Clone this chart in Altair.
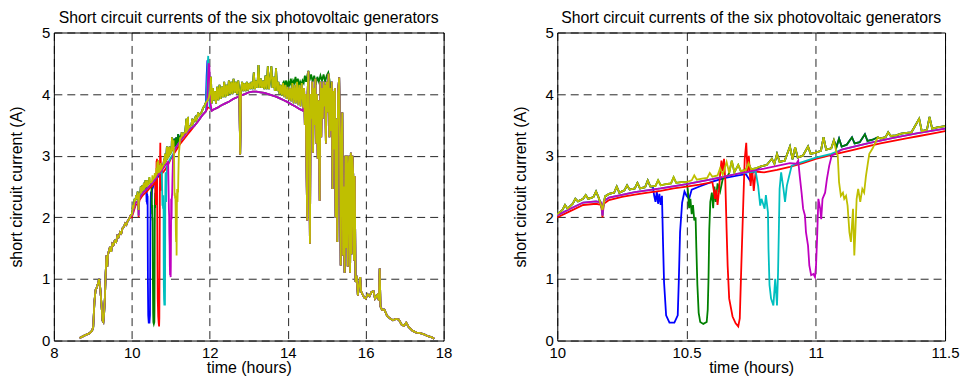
import altair as alt
import pandas as pd

TITLE = "Short circuit currents of the six photovoltaic generators"
NAMES = ["gen1", "gen2", "gen3", "gen4", "gen5", "gen6"]
COLORS = ["#0000FF", "#008000", "#FF0000", "#00BFBF", "#BF00BF", "#BFBF00"]
FONT = "Liberation Sans"

# morning ramp, shared by all generators
AM_T = [8.66, 8.72, 8.78, 8.85, 8.92, 8.98, 9.01, 9.04, 9.07, 9.10, 9.13, 9.16, 9.19, 9.22,
        9.25, 9.27, 9.29, 9.31, 9.33, 9.35, 9.37, 9.39, 9.41, 9.44, 9.47, 9.50, 9.53, 9.56,
        9.60, 9.63, 9.66, 9.70, 9.73, 9.76, 9.80, 9.83, 9.86, 9.90, 9.93, 9.96]
AM_V = [0.04, 0.06, 0.08, 0.10, 0.12, 0.16, 0.22, 0.62, 0.82, 0.86, 0.92, 1.00, 0.85, 0.60,
        0.32, 0.30, 0.45, 0.70, 1.10, 1.38, 1.20, 1.40, 1.45, 1.52, 1.44, 1.57, 1.55, 1.62,
        1.60, 1.70, 1.68, 1.76, 1.74, 1.82, 1.85, 1.90, 1.88, 1.95, 1.97, 2.02]

# upper (noisy) envelope 10 h - 14.4 h
UP_T = [10.00, 10.02, 10.03, 10.04, 10.06, 10.07, 10.08, 10.10, 10.11, 10.12, 10.14, 10.15,
        10.16, 10.175, 10.185, 10.20, 10.22, 10.23, 10.24, 10.26, 10.27, 10.28, 10.30, 10.31,
        10.32, 10.34, 10.35, 10.36, 10.38, 10.39, 10.40, 10.42, 10.44, 10.45, 10.46, 10.48,
        10.50, 10.52, 10.53, 10.54, 10.56, 10.58, 10.59, 10.60, 10.62, 10.63, 10.64, 10.655,
        10.665, 10.675, 10.685, 10.70, 10.71, 10.73, 10.74, 10.75, 10.77, 10.79, 10.81, 10.83,
        10.84, 10.85, 10.86, 10.88, 10.90, 10.91, 10.92, 10.93, 10.95, 10.97, 10.98, 11.00,
        11.02, 11.03, 11.04, 11.06, 11.07, 11.08, 11.09, 11.10, 11.12, 11.14, 11.15, 11.17,
        11.19, 11.20, 11.22, 11.24, 11.25, 11.27, 11.28, 11.29, 11.31, 11.33, 11.35, 11.37,
        11.40, 11.41, 11.43, 11.44, 11.45, 11.47, 11.50, 11.53, 11.55, 11.57, 11.60, 11.63,
        11.65, 11.68, 11.70, 11.72, 11.76, 11.80, 11.83, 11.86, 11.89, 11.92, 11.95, 11.98,
        12.01, 12.03, 12.05,
        12.08, 12.10, 12.13, 12.16, 12.19, 12.22, 12.25, 12.28, 12.31, 12.34, 12.37, 12.40,
        12.43, 12.46, 12.49, 12.52, 12.55, 12.58, 12.61, 12.64, 12.67, 12.70, 12.73, 12.76,
        12.78, 12.80, 12.83, 12.86, 12.89, 12.92, 12.95, 12.98, 13.01, 13.04, 13.07, 13.10,
        13.13, 13.16, 13.19, 13.22, 13.25, 13.28, 13.31, 13.34, 13.37, 13.40, 13.43, 13.46,
        13.49, 13.52, 13.55, 13.58, 13.61, 13.64, 13.67, 13.70, 13.73, 13.76, 13.79, 13.82,
        13.85, 13.88, 13.91, 13.94, 13.97, 14.00, 14.03, 14.06, 14.09, 14.12, 14.15, 14.18,
        14.21, 14.24, 14.27, 14.30, 14.33, 14.36, 14.40]
UP_V = [2.05, 2.12, 2.20, 2.14, 2.22, 2.30, 2.26, 2.30, 2.36, 2.30, 2.33, 2.42,
        2.32, 2.12, 2.34, 2.38, 2.40, 2.50, 2.40, 2.44, 2.52, 2.45, 2.47, 2.56,
        2.47, 2.49, 2.60, 2.50, 2.51, 2.60, 2.52, 2.54, 2.55, 2.65, 2.56, 2.57,
        2.57, 2.60, 2.68, 2.61, 2.63, 2.64, 2.72, 2.66, 2.68, 2.80, 2.69, 2.90,
        2.72, 2.92, 2.73, 2.85, 2.75, 2.77, 2.88, 2.78, 2.80, 2.83, 2.85, 2.95,
        2.87, 3.03, 2.90, 2.92, 3.15, 2.94, 3.14, 2.97, 3.00, 3.15, 3.03, 3.05,
        3.08, 3.30, 3.10, 3.12, 3.25, 3.14, 3.28, 3.15, 3.18, 3.30, 3.20, 3.22,
        3.35, 3.24, 3.26, 3.30, 3.28, 3.30, 3.38, 3.32, 3.33, 3.36, 3.37, 3.38,
        3.60, 3.40, 3.42, 3.63, 3.44, 3.46, 3.48, 3.50, 3.60, 3.53, 3.57, 3.62,
        3.58, 3.63, 3.70, 3.65, 3.68, 3.72, 3.78, 3.80, 3.85, 3.88, 3.90, 3.95,
        4.05, 4.28, 3.85,
        4.10, 3.90, 4.05, 3.85, 4.12, 3.90, 4.15, 3.92, 4.12, 3.95, 4.20, 3.95,
        4.15, 3.97, 4.22, 4.00, 4.20, 4.00, 4.25, 4.02, 4.20, 4.00, 4.22, 4.02,
        3.02, 4.05, 4.20, 4.05, 4.18, 4.05, 4.20, 4.06, 4.18, 4.08, 4.20, 4.08,
        4.35, 4.08, 4.22, 4.10, 4.47, 4.10, 4.25, 4.10, 4.22, 4.08, 4.30, 4.08,
        4.45, 4.08, 4.25, 4.45, 4.10, 4.28, 4.05, 4.42, 4.05, 4.20, 4.00, 4.15,
        3.98, 4.18, 3.95, 4.15, 3.92, 4.12, 3.90, 4.10, 3.88, 4.18, 3.85, 4.15,
        3.85, 4.20, 3.82, 4.15, 3.80, 4.18, 3.78]

# lower (smooth) envelope 10 h - 14.4 h
LO_T = [10.00, 10.05, 10.10, 10.15, 10.17, 10.175, 10.18, 10.20, 10.25, 10.30, 10.35, 10.40,
        10.45, 10.50, 10.55, 10.60, 10.65, 10.70, 10.75, 10.80, 10.85, 10.90, 10.95, 11.00,
        11.05, 11.10, 11.15, 11.20, 11.25, 11.30, 11.35, 11.40, 11.45, 11.50, 11.60, 11.70,
        11.80, 11.90, 11.95, 12.00, 12.05, 12.10, 12.20, 12.30, 12.40, 12.50, 12.60, 12.70,
        12.76, 12.78, 12.80, 12.90, 13.00, 13.10, 13.20, 13.30, 13.40, 13.50, 13.60, 13.70,
        13.80, 13.90, 14.00, 14.10, 14.20, 14.30, 14.40]
LO_V = [2.00, 2.10, 2.20, 2.22, 2.20, 2.00, 2.22, 2.28, 2.33, 2.37, 2.40, 2.43,
        2.47, 2.50, 2.53, 2.57, 2.61, 2.65, 2.69, 2.73, 2.77, 2.82, 2.88, 2.95,
        3.00, 3.05, 3.10, 3.15, 3.20, 3.24, 3.28, 3.32, 3.36, 3.40, 3.48, 3.56,
        3.65, 3.72, 3.78, 3.78, 3.73, 3.75, 3.78, 3.82, 3.85, 3.88, 3.92, 3.95,
        3.97, 3.02, 3.98, 4.00, 4.03, 4.04, 4.04, 4.03, 4.02, 4.00, 3.98, 3.96,
        3.93, 3.90, 3.87, 3.83, 3.80, 3.76, 3.73]

# magenta / cyan run slightly above red in the morning
MID_T = [10.00, 10.05, 10.10, 10.15, 10.17, 10.175, 10.18, 10.20, 10.30, 10.40, 10.50,
         10.60, 10.70, 10.80, 10.90, 11.00, 11.10, 11.20, 11.30, 11.40, 11.50]
MID_V = [2.03, 2.14, 2.24, 2.26, 2.24, 2.03, 2.26, 2.32, 2.41, 2.47, 2.54,
         2.62, 2.71, 2.79, 2.88, 3.00, 3.10, 3.20, 3.29, 3.37, 3.44]

# afternoon clouds and evening decline, shared by all generators
PM_T = [14.42, 14.44, 14.46, 14.48, 14.50, 14.51, 14.53, 14.55, 14.57, 14.59, 14.61, 14.63,
        14.65, 14.67, 14.69, 14.71, 14.73, 14.75, 14.77, 14.79, 14.82, 14.84, 14.86, 14.88,
        14.90, 14.92, 14.94, 14.96, 14.98, 15.00, 15.02, 15.05, 15.07, 15.09, 15.11, 15.13,
        15.15, 15.17, 15.19, 15.21, 15.23, 15.25, 15.27, 15.29, 15.32, 15.34, 15.36, 15.38,
        15.40, 15.42, 15.44, 15.46, 15.48, 15.50, 15.52, 15.54, 15.56, 15.58, 15.60, 15.62,
        15.64, 15.66, 15.68, 15.70, 15.72, 15.74, 15.77, 15.80, 15.83, 15.86, 15.88, 15.92,
        15.96, 16.00, 16.05, 16.10, 16.15, 16.20, 16.24, 16.30, 16.34, 16.36, 16.38, 16.42,
        16.48, 16.55, 16.62, 16.70, 16.78, 16.85, 16.92, 16.98, 17.04, 17.10, 17.20, 17.30,
        17.40, 17.50, 17.60, 17.70, 17.76]
PM_V = [4.10, 3.50, 4.00, 2.90, 1.95, 4.00, 4.37, 3.30, 1.57, 4.00, 3.60, 4.20,
        3.05, 4.10, 3.50, 4.25, 3.20, 4.00, 2.95, 3.90, 2.27, 4.20, 3.30, 4.10,
        3.60, 4.20, 3.80, 4.15, 3.20, 4.20, 3.70, 4.33, 3.30, 4.10, 3.40, 4.20,
        2.46, 4.05, 3.10, 4.10, 2.00, 3.60, 1.60, 4.00, 4.27, 3.30, 1.22, 3.20,
        3.70, 1.38, 2.50, 1.10, 3.00, 1.50, 3.00, 1.20, 2.80, 3.00, 1.10, 3.05,
        1.40, 3.00, 2.70, 1.30, 2.67, 0.95, 1.05, 0.73, 0.90, 1.03, 0.80, 0.75,
        0.70, 0.68, 0.75, 0.72, 0.79, 0.80, 0.68, 0.74, 0.65, 1.17, 0.55, 0.50,
        0.50, 0.40, 0.36, 0.33, 0.35, 0.34, 0.26, 0.24, 0.29, 0.22, 0.16, 0.13,
        0.12, 0.10, 0.07, 0.05, 0.03]

# individual excursions (shading tests and peaks)
BLUE_DIP_T = [10.37, 10.375, 10.38, 10.385, 10.39, 10.395, 10.40, 10.405, 10.409, 10.413,
              10.421, 10.434, 10.453, 10.466, 10.47, 10.475, 10.483, 10.492, 10.50, 10.51,
              10.52, 10.55, 10.60, 10.65, 10.70, 10.73, 10.745, 10.755, 10.78]
BLUE_DIP_V = [2.49, 2.35, 2.25, 2.42, 2.22, 2.38, 2.20, 2.35, 1.60, 0.95,
              0.41, 0.29, 0.29, 0.41, 0.95, 1.76, 2.24, 2.42, 2.35, 2.30,
              2.45, 2.50, 2.58, 2.64, 2.68, 2.70, 2.60, 2.72, 2.80]
BLUE_PEAK_T = [11.90, 11.92, 11.94, 11.96, 11.98]
BLUE_PEAK_V = [3.85, 4.30, 4.55, 4.20, 3.90]

GREEN_DIP_T = [10.505, 10.51, 10.515, 10.52, 10.525, 10.53, 10.535, 10.538, 10.542, 10.547,
               10.553, 10.565, 10.578, 10.582, 10.585, 10.588, 10.592, 10.598, 10.603, 10.608,
               10.613, 10.62, 10.63, 10.64, 10.66]
GREEN_DIP_V = [2.45, 2.15, 2.30, 2.05, 2.20, 1.95, 2.00, 1.50, 0.90, 0.45,
               0.30, 0.27, 0.30, 0.50, 1.00, 1.80, 2.25, 2.40, 2.15, 2.50,
               2.25, 2.55, 2.42, 2.62, 2.68]
GREEN_TOP_T = [13.90, 13.93, 13.96, 13.99, 14.02, 14.05, 14.08, 14.11, 14.14, 14.17, 14.20,
               14.23, 14.26, 14.29, 14.32, 14.35, 14.38, 14.41, 14.44, 14.47, 14.50, 14.53,
               14.56, 14.60, 14.64, 14.68, 14.72, 14.76, 14.80, 14.84, 14.88, 14.92, 14.96,
               15.00, 15.04, 15.08]
GREEN_TOP_V = [4.20, 4.15, 4.22, 4.12, 4.20, 4.15, 4.25, 4.12, 4.22, 4.18, 4.28,
               4.15, 4.25, 4.12, 4.20, 4.15, 4.22, 4.18, 4.30, 4.20, 4.30, 4.38,
               4.22, 4.32, 4.20, 4.30, 4.15, 4.28, 4.20, 4.30, 4.22, 4.32, 4.20,
               4.30, 4.35, 4.20]

RED_DIP_T = [10.60, 10.605, 10.61, 10.615, 10.62, 10.625, 10.63, 10.635, 10.64, 10.645,
             10.65, 10.655, 10.659, 10.665, 10.678, 10.69, 10.70, 10.706, 10.712, 10.72,
             10.725, 10.731, 10.736, 10.741, 10.748, 10.754, 10.76, 10.767, 10.775]
RED_DIP_V = [2.57, 2.45, 2.30, 2.45, 2.20, 2.40, 2.70, 2.92, 2.75, 2.95,
             2.60, 1.80, 1.22, 0.68, 0.39, 0.28, 0.23, 0.36, 1.22, 2.30,
             2.94, 3.21, 2.73, 3.00, 2.51, 2.78, 2.43, 2.73, 2.74]

CYAN_DIP_T = [10.76, 10.766, 10.777, 10.785, 10.79, 10.802, 10.807, 10.815, 10.817, 10.821,
              10.827, 10.836, 10.843, 10.85, 10.854, 10.857, 10.86, 10.866, 10.875, 10.881,
              10.888, 10.897, 10.907, 10.92, 10.95, 11.00, 11.06]
CYAN_DIP_V = [2.74, 2.78, 2.51, 2.19, 2.30, 2.14, 2.36, 2.08, 1.49, 0.90,
              0.68, 0.57, 1.00, 0.57, 1.10, 1.76, 2.46, 2.73, 2.46, 2.25,
              2.51, 2.67, 2.84, 2.86, 2.90, 2.97, 3.03]
CYAN_PEAK_T = [11.91, 11.945, 11.96, 11.98, 12.00]
CYAN_PEAK_V = [3.85, 4.45, 4.62, 4.00, 3.80]

MAG_DIP_T = [10.925, 10.932, 10.938, 10.945, 10.951, 10.958, 10.962, 10.97, 10.975, 10.982,
             10.991, 10.997, 11.001, 11.005, 11.01, 11.017, 11.021, 11.026, 11.036, 11.043,
             11.052, 11.062, 11.08]
MAG_DIP_V = [2.87, 2.92, 2.67, 2.40, 2.14, 2.03, 1.76, 1.54, 1.22, 1.06,
             1.08, 1.03, 1.22, 1.65, 2.30, 2.14, 1.97, 2.30, 2.40, 2.62,
             2.84, 3.01, 3.04]
MAG_PEAK_T = [11.93, 11.97, 11.99, 12.02]
MAG_PEAK_V = [3.80, 4.50, 4.45, 3.85]

YEL_DIP_T = [11.08, 11.085, 11.09, 11.097, 11.105, 11.11, 11.117, 11.123, 11.13, 11.136,
             11.14, 11.144, 11.149, 11.153, 11.158, 11.164, 11.172, 11.18, 11.187, 11.194,
             11.20, 11.207, 11.22]
YEL_DIP_V = [3.05, 3.00, 2.57, 2.35, 2.40, 2.30, 2.35, 2.19, 1.76, 1.60,
             1.87, 2.14, 1.38, 1.76, 2.30, 2.46, 2.25, 2.46, 2.40, 2.67,
             2.84, 3.03, 3.12]

SERIES = [
    ("gen1", UP_T, UP_V, [(BLUE_DIP_T, BLUE_DIP_V), (BLUE_PEAK_T, BLUE_PEAK_V)]),
    ("gen2", UP_T, UP_V, [(GREEN_DIP_T, GREEN_DIP_V), (GREEN_TOP_T, GREEN_TOP_V)]),
    ("gen3", LO_T, LO_V, [(RED_DIP_T, RED_DIP_V)]),
    ("gen4", LO_T, LO_V, [(MID_T, MID_V), (CYAN_DIP_T, CYAN_DIP_V), (CYAN_PEAK_T, CYAN_PEAK_V)]),
    ("gen5", LO_T, LO_V, [(MID_T, MID_V), (MAG_DIP_T, MAG_DIP_V), (MAG_PEAK_T, MAG_PEAK_V)]),
    ("gen6", UP_T, UP_V, [(YEL_DIP_T, YEL_DIP_V)]),
]

rows = []
for name, mt, mv, segs in SERIES:
    pts = list(zip(AM_T, AM_V)) + list(zip(mt, mv)) + list(zip(PM_T, PM_V))
    for st, sv in segs:
        lo, hi = min(st), max(st)
        pts = [p for p in pts if not (lo <= p[0] <= hi)] + list(zip(st, sv))
    pts.sort(key=lambda p: p[0])
    for i, (t, v) in enumerate(pts):
        rows.append({"s": name, "t": t, "v": v, "i": i})
df = pd.DataFrame(rows)


def panel(xdom, xticks, w):
    xenc = alt.X("t:Q", scale=alt.Scale(domain=xdom, nice=False, zero=False),
                 axis=alt.Axis(values=xticks, title="time (hours)", labelExpr="'' + datum.value",
                               labelFlush=False, labelPadding=5, titleY=27, titleBaseline="middle"))
    yenc = alt.Y("v:Q", scale=alt.Scale(domain=[0, 5], nice=False),
                 axis=alt.Axis(values=[0, 1, 2, 3, 4, 5], title="short circuit current (A)",
                               labelExpr="'' + datum.value", labelPadding=4,
                               titleX=-37, titleBaseline="middle"))
    layers = []
    for name, col in zip(NAMES, COLORS):
        layers.append(
            alt.Chart(df).transform_filter(alt.datum.s == name)
            .mark_line(color=col, strokeWidth=1.8, clip=True)
            .encode(x=xenc, y=yenc, order="i:Q")
        )
    return alt.layer(*layers).properties(width=w, height=309, title=TITLE)


left = panel([8, 18], [8, 10, 12, 14, 16, 18], 391)
right = panel([10, 11.5], [10, 10.5, 11, 11.5], 389)

chart = (
    alt.hconcat(left, right, spacing=59)
    .properties(padding={"left": 0, "top": 0, "right": 0, "bottom": 0})
    .configure_view(stroke="black", strokeWidth=1)
    .configure_axis(domain=False, ticks=False, grid=True, gridColor="black", gridDash=[8, 5],
                    gridWidth=1, gridOpacity=0.85, labelFont=FONT, labelFontSize=15,
                    labelColor="black", titleFont=FONT, titleFontSize=16,
                    titleFontWeight="normal", titleColor="black")
    .configure_title(font=FONT, fontSize=15.8, fontWeight="normal", color="black",
                     anchor="middle", offset=-1)
)

chart.save("out.html", embed_options={"renderer": "svg", "actions": False})
